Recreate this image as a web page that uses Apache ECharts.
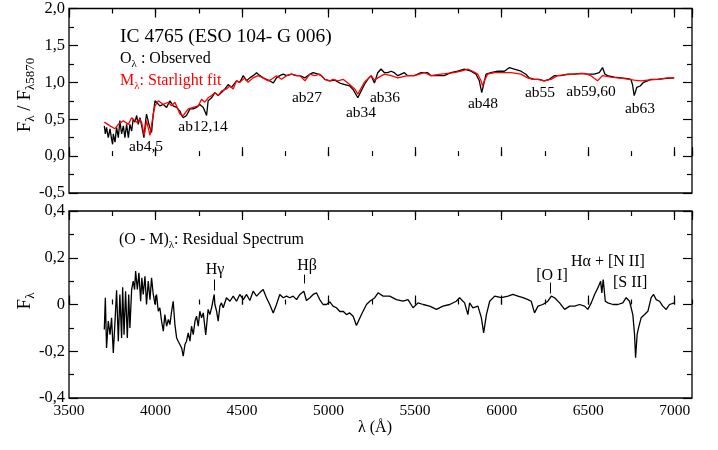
<!DOCTYPE html>
<html>
<head>
<meta charset="utf-8">
<script src="https://cdn.jsdelivr.net/npm/echarts/dist/echarts.min.js"></script>
<style>
html, body { margin: 0; padding: 0; background: #fff; }
#chart { width: 718px; height: 450px; }
</style>
</head>
<body>
<div id="chart"></div>
<script>
// observed spectrum O(lambda), normalised at 5870 A
var obsWave = [3704,3710,3717,3727,3737,3746,3752,3756,3766,3775,3785,3794,3804,3814,3823,3833,3843,3852,3862,3871,
	3881,3891,3900,3910,3920,3933,3943,3948,3964,3977,3987,3997,4006,4025,4045,4064,4083,4102,4122,4141,
	4151,4160,4179,4199,4218,4237,4256,4276,4295,4304,4324,4343,4362,4381,4401,4420,4439,4468,4487,4507,
	4526,4545,4564,4584,4603,4622,4641,4660,4680,4699,4718,4738,4757,4786,4815,4834,4863,4892,4911,4940,
	4959,4978,5007,5036,5065,5094,5122,5142,5169,5188,5207,5226,5246,5265,5284,5303,5323,5342,5361,5380,
	5400,5419,5438,5457,5496,5534,5573,5592,5630,5669,5707,5746,5785,5823,5852,5871,5885,5896,5910,5938,
	5977,6016,6045,6073,6112,6140,6160,6189,6218,6246,6275,6304,6343,6381,6420,6458,6497,6535,6564,6583,
	6597,6612,6651,6689,6727,6747,6756,6766,6781,6801,6820,6843,6862,6901,6939,6997];
var obsFlux = [0.41,0.30,0.39,0.25,0.37,0.23,0.16,0.30,0.19,0.39,0.25,0.48,0.30,0.41,0.25,0.43,0.25,0.43,0.34,0.50,
	0.46,0.55,0.43,0.52,0.41,0.25,0.48,0.57,0.41,0.32,0.57,0.75,0.77,0.68,0.70,0.66,0.75,0.68,0.66,0.61,
	0.55,0.52,0.55,0.64,0.64,0.66,0.70,0.66,0.55,0.75,0.79,0.86,0.82,0.86,0.91,0.97,0.93,1.02,1.00,1.09,
	1.02,1.06,1.09,1.13,1.09,1.06,1.04,1.02,0.99,1.06,1.09,1.11,1.09,1.11,1.09,1.09,1.06,1.11,1.13,1.11,
	1.09,1.04,1.02,1.03,0.99,0.97,0.95,0.90,0.79,0.88,0.97,1.04,1.09,0.99,1.13,1.18,1.13,1.13,1.15,1.13,
	1.09,1.11,1.13,1.09,1.09,1.13,1.13,1.09,1.09,1.09,1.13,1.15,1.18,1.15,1.11,1.02,0.86,0.97,1.11,1.13,
	1.15,1.15,1.20,1.18,1.15,1.11,1.06,1.04,1.04,1.02,1.04,1.09,1.09,1.11,1.11,1.12,1.11,1.11,1.13,1.20,
	1.11,1.09,1.07,1.06,1.05,1.04,0.97,0.82,0.93,0.95,1.00,1.02,1.04,1.04,1.05,1.06];

// STARLIGHT model M(lambda)
var fitWave = [3704,3737,3766,3785,3814,3843,3862,3891,3910,3920,3935,3948,3968,3987,3997,4016,4045,4074,4093,4112,
	4141,4160,4189,4218,4247,4266,4285,4304,4324,4343,4362,4381,4410,4430,4449,4468,4487,4516,4535,4564,
	4593,4622,4651,4670,4699,4728,4757,4786,4815,4834,4863,4892,4920,4949,4978,5007,5026,5055,5084,5122,
	5151,5169,5207,5246,5265,5284,5323,5361,5400,5457,5496,5554,5592,5650,5727,5765,5804,5833,5862,5881,
	5890,5900,5919,5958,5996,6054,6112,6150,6179,6208,6246,6285,6323,6362,6420,6477,6516,6554,6583,6631,
	6708,6766,6804,6843,6901,6958,6997];
var fitFlux = [0.46,0.41,0.37,0.43,0.48,0.43,0.52,0.46,0.50,0.45,0.28,0.48,0.28,0.57,0.68,0.75,0.70,0.73,0.68,0.73,
	0.57,0.55,0.64,0.66,0.68,0.77,0.73,0.79,0.82,0.86,0.82,0.88,0.91,0.95,0.91,1.02,1.00,1.06,1.00,1.06,
	1.09,1.06,1.02,1.04,1.09,1.04,1.09,1.11,1.09,1.09,1.02,1.11,1.09,1.11,1.04,1.02,1.04,1.02,1.04,0.97,
	0.91,0.84,1.00,1.09,1.03,1.06,1.11,1.09,1.06,1.09,1.09,1.13,1.09,1.11,1.13,1.15,1.18,1.15,1.11,1.02,
	0.95,1.02,1.11,1.13,1.13,1.13,1.11,1.06,1.04,1.04,1.02,1.04,1.09,1.10,1.11,1.12,1.09,1.02,1.09,1.07,
	1.05,1.03,1.02,1.03,1.04,1.06,1.06];

// residual (O - M)
var resWave = [3704,3710,3717,3727,3737,3746,3756,3766,3775,3785,3794,3804,3810,3818,3827,3837,3845,3852,3862,3871,
	3879,3885,3895,3904,3914,3921,3929,3939,3948,3958,3968,3977,3987,3997,4006,4016,4025,4035,4045,4054,
	4064,4074,4083,4093,4102,4112,4122,4131,4141,4151,4160,4170,4179,4189,4199,4208,4218,4228,4237,4247,
	4256,4266,4276,4290,4304,4314,4324,4339,4343,4353,4362,4372,4381,4391,4410,4430,4449,4468,4487,4507,
	4526,4545,4564,4584,4603,4622,4641,4660,4680,4699,4718,4738,4757,4776,4795,4815,4834,4857,4872,4892,
	4911,4930,4949,4968,4988,5007,5026,5045,5065,5084,5103,5122,5142,5161,5190,5219,5238,5267,5286,5315,
	5353,5392,5430,5459,5488,5517,5546,5584,5623,5661,5700,5738,5757,5786,5805,5815,5834,5863,5883,5896,
	5912,5931,5960,5998,6037,6065,6094,6123,6152,6171,6190,6210,6238,6267,6287,6306,6335,6364,6393,6422,
	6450,6479,6498,6518,6537,6556,6572,6579,6587,6599,6614,6643,6672,6700,6720,6739,6758,6768,6774,6783,
	6791,6806,6826,6845,6864,6878,6893,6912,6931,6951,6970,6999];
var resFlux = [-0.107,0.029,-0.186,-0.071,-0.129,-0.057,-0.207,-0.071,0.061,-0.157,0.043,-0.143,0.074,-0.129,0.057,-0.143,0.043,-0.100,0.064,0.100,
	0.064,0.143,0.064,0.136,0.014,0.114,0.043,0.121,0.000,0.100,0.021,0.114,0.043,0.000,0.043,-0.029,-0.014,-0.071,-0.114,-0.043,
	-0.093,-0.064,-0.086,-0.029,0.014,-0.086,-0.143,-0.157,-0.164,-0.186,-0.221,-0.171,-0.157,-0.121,-0.157,-0.093,-0.129,-0.071,-0.050,-0.093,
	-0.029,-0.057,-0.036,-0.130,-0.021,-0.043,-0.014,0.043,0.000,-0.029,-0.071,-0.007,0.007,-0.014,0.029,0.014,0.036,0.014,0.043,0.021,
	0.043,0.017,0.057,0.036,0.051,0.064,0.029,0.000,-0.036,0.000,0.043,0.029,0.036,0.029,0.036,0.021,0.043,0.057,0.017,0.029,
	0.043,0.050,0.021,0.000,0.000,0.011,-0.007,-0.014,-0.030,-0.029,-0.043,-0.036,-0.050,-0.090,-0.043,0.000,0.014,0.029,0.050,0.036,
	0.036,0.021,0.014,0.021,-0.014,0.007,0.000,-0.007,-0.021,-0.007,0.000,0.014,0.029,0.007,-0.043,0.007,-0.014,-0.007,-0.057,-0.121,
	-0.043,0.014,0.036,0.029,0.036,0.043,0.036,0.029,0.021,0.014,-0.036,-0.007,0.000,0.014,0.036,0.029,0.007,-0.021,-0.007,-0.007,
	0.000,-0.007,-0.021,0.007,0.043,0.071,0.100,0.050,0.107,0.014,0.007,0.000,0.000,0.007,0.029,0.014,-0.043,-0.128,-0.228,-0.128,
	-0.100,-0.057,-0.043,-0.029,0.029,0.043,0.021,0.014,-0.007,-0.021,0.000,0.007];

// emission line markers in the residual panel
var lineWave = [4337, 4857, 6283];
var lineLow = [0.060, 0.090, 0.047];
var lineHigh = [0.107, 0.128, 0.094];

var FONT = 'Liberation Serif';

function pairs(xs, ys) {
	var out = [];
	for (var i = 0; i < xs.length; i++) out.push([xs[i], ys[i]]);
	return out;
}

function commaFmt(zero) {
	return function(v) {
		if (Math.abs(v) < 1e-9) return zero;
		return v.toFixed(1).replace('.', ',');
	};
}

function xAx(grid, pos, interval, len, labels) {
	return {
		type: 'value', gridIndex: grid, position: pos,
		min: 3500, max: 7100, interval: interval,
		axisLine: { show: false },
		axisTick: { show: true, inside: true, length: len, lineStyle: { color: '#000', width: 1.2 } },
		axisLabel: {
			show: labels, showMaxLabel: false, color: '#000', fontFamily: FONT, fontSize: 15.5, margin: 5,
			formatter: function(v) { return String(Math.round(v)); }
		},
		splitLine: { show: false }
	};
}

function yAx(grid, pos, min, max, interval, labels, zero) {
	return {
		type: 'value', gridIndex: grid, position: pos,
		min: min, max: max, interval: interval,
		axisLine: { show: false },
		axisTick: { show: true, inside: true, length: 9, lineStyle: { color: '#000', width: 1.2 } },
		minorTick: { show: true, splitNumber: 2, length: 5, lineStyle: { color: '#000', width: 1.2 } },
		axisLabel: { show: labels, color: '#000', fontFamily: FONT, fontSize: 16.5, margin: 4, formatter: commaFmt(zero) },
		splitLine: { show: false },
		minorSplitLine: { show: false }
	};
}

function txt(x, y, text, size, color, align, rich) {
	return {
		type: 'text', x: x, y: y, silent: true,
		style: {
			text: text, fill: color || '#000', fontFamily: FONT, fontSize: size,
			align: align || 'left', verticalAlign: 'middle',
			textAlign: align || 'left', textVerticalAlign: 'middle',
			rich: rich || {}
		}
	};
}

function subRich(size, color) {
	return {
		m: { fontFamily: FONT, fontSize: size, lineHeight: size + 2, fill: color, color: color },
		s: { fontFamily: FONT, fontSize: Math.round(size * 0.7), lineHeight: Math.round(size * 0.7),
			padding: [Math.round(size * 0.6), 0, 0, 0], fill: color, color: color }
	};
}

var chart = echarts.init(document.getElementById('chart'));

var marks = [];
for (var i = 0; i < lineWave.length; i++) {
	marks.push([{ coord: [lineWave[i], lineLow[i]] }, { coord: [lineWave[i], lineHigh[i]] }]);
}

var gridStyle = { show: true, borderColor: '#000', borderWidth: 1.3, backgroundColor: 'transparent' };

var option = {
	animation: false,
	backgroundColor: '#fff',
	grid: [
		Object.assign({ left: 69, top: 6, width: 623, height: 187 }, gridStyle),
		Object.assign({ left: 69, top: 211, width: 623, height: 187 }, gridStyle)
	],
	xAxis: [
		xAx(0, 'bottom', 500, 9, false),
		xAx(0, 'bottom', 250, 5, false),
		xAx(0, 'top', 500, 9, false),
		xAx(0, 'top', 250, 5, false),
		xAx(1, 'bottom', 500, 9, true),
		xAx(1, 'bottom', 250, 5, false),
		xAx(1, 'top', 500, 9, false),
		xAx(1, 'top', 250, 5, false)
	],
	yAxis: [
		yAx(0, 'left', -0.5, 2.0, 0.5, true, '0,0'),
		yAx(0, 'right', -0.5, 2.0, 0.5, false, '0,0'),
		yAx(1, 'left', -0.4, 0.4, 0.2, true, '0'),
		yAx(1, 'right', -0.4, 0.4, 0.2, false, '0')
	],
	series: [{
		name: 'Observed', type: 'line', xAxisIndex: 0, yAxisIndex: 0,
		data: pairs(obsWave, obsFlux), symbol: 'none', silent: true, z: 2,
		lineStyle: { color: '#000', width: 1.3 }
	}, {
		name: 'Starlight fit', type: 'line', xAxisIndex: 0, yAxisIndex: 0,
		data: pairs(fitWave, fitFlux), symbol: 'none', silent: true, z: 3,
		lineStyle: { color: '#ff0000', width: 1.3 }
	}, {
		name: 'Residual', type: 'line', xAxisIndex: 4, yAxisIndex: 2,
		data: pairs(resWave, resFlux), symbol: 'none', silent: true, z: 2,
		lineStyle: { color: '#000', width: 1.3 },
		markLine: {
			silent: true, symbol: 'none', animation: false,
			label: { show: false },
			lineStyle: { color: '#000', width: 1, type: 'solid' },
			data: marks
		}
	}],
	graphic: [
		txt(120, 37, 'IC 4765 (ESO 104- G 006)', 19.5),
		txt(120, 59, '{m|O}{s|λ}{m| : Observed}', 16, '#000', 'left', subRich(16, '#000')),
		txt(120, 81, '{m|M}{s|λ}{m|: Starlight fit}', 16, '#ff0000', 'left', subRich(16, '#ff0000')),
		txt(146, 147, 'ab4,5', 15.5, '#000', 'center'),
		txt(203, 127, 'ab12,14', 15.5, '#000', 'center'),
		txt(307, 98, 'ab27', 15.5, '#000', 'center'),
		txt(361, 113, 'ab34', 15.5, '#000', 'center'),
		txt(385, 98, 'ab36', 15.5, '#000', 'center'),
		txt(483, 104, 'ab48', 15.5, '#000', 'center'),
		txt(540, 93, 'ab55', 15.5, '#000', 'center'),
		txt(591, 92, 'ab59,60', 15.5, '#000', 'center'),
		txt(640, 109, 'ab63', 15.5, '#000', 'center'),
		txt(119, 240, '{m|(O - M)}{s|λ}{m|: Residual Spectrum}', 16, '#000', 'left', subRich(16, '#000')),
		txt(215, 270, 'Hγ', 16, '#000', 'center'),
		txt(307, 266, 'Hβ', 16, '#000', 'center'),
		txt(552, 276, '[O I]', 16, '#000', 'center'),
		txt(571, 262, 'Hα + [N II]', 16, '#000', 'left'),
		txt(613, 283, '[S II]', 16, '#000', 'left'),
		txt(375, 428, 'λ (Å)', 16, '#000', 'center'),
		Object.assign(txt(25, 95, '{m|F}{s|λ}{m| / F}{s|λ5870}', 19, '#000', 'center', subRich(19, '#000')), { rotation: Math.PI / 2 }),
		Object.assign(txt(25, 301, '{m|F}{s|λ}', 19, '#000', 'center', subRich(19, '#000')), { rotation: Math.PI / 2 })
	]
};

chart.setOption(option);
</script>
</body>
</html>
